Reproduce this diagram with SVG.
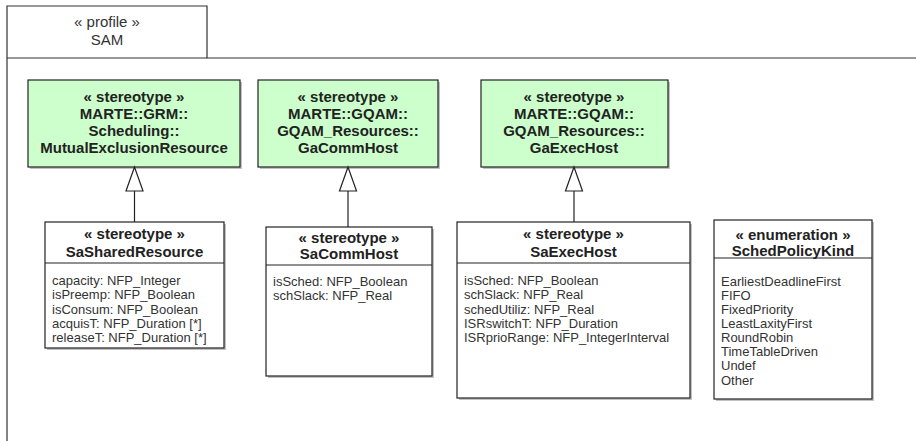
<svg xmlns="http://www.w3.org/2000/svg" width="916" height="441" viewBox="0 0 916 441">
<style>
.frame{fill:none;stroke:#333;stroke-width:1.2}
.box{fill:#fff;stroke:#222;stroke-width:1.2}
.green{fill:#ccffcc;stroke:#222;stroke-width:1.2}
.shadow{fill:#999;opacity:0.6}
.sep{stroke:#222;stroke-width:1.2}
.hd{font-family:"Liberation Sans",Arial,sans-serif;font-size:15px;font-weight:bold;fill:#222;text-anchor:middle}
.at{font-family:"Liberation Sans",Arial,sans-serif;font-size:13px;fill:#333}
.pf{font-family:"Liberation Sans",Arial,sans-serif;font-size:15px;fill:#333;text-anchor:middle}
.edge{stroke:#222;stroke-width:1.2;fill:none}
.tri{fill:#fff;stroke:#222;stroke-width:1.2}
</style>
<rect width="916" height="441" fill="#fff"/>
<g id="profile">
<path class="frame" d="M7,441 V6 H207 V58 H916"/>
<line class="frame" x1="7" y1="58" x2="207" y2="58"/>
<text class="pf" x="107" y="27">« profile »</text>
<text class="pf" x="107" y="45">SAM</text>
</g>
<g id="MutualExclusionResource">
<rect class="shadow" x="30" y="82" width="212" height="87"/>
<rect class="green" x="28" y="80" width="212" height="87"/>
<text class="hd" x="134" y="102">« stereotype »</text>
<text class="hd" x="134" y="119">MARTE::GRM::</text>
<text class="hd" x="134" y="136">Scheduling::</text>
<text class="hd" x="134" y="153">MutualExclusionResource</text>
</g>
<g id="GaCommHost">
<rect class="shadow" x="260" y="82" width="180" height="87"/>
<rect class="green" x="258" y="80" width="180" height="87"/>
<text class="hd" x="348" y="102">« stereotype »</text>
<text class="hd" x="348" y="119">MARTE::GQAM::</text>
<text class="hd" x="348" y="136">GQAM_Resources::</text>
<text class="hd" x="348" y="153">GaCommHost</text>
</g>
<g id="GaExecHost">
<rect class="shadow" x="483" y="82" width="187" height="87"/>
<rect class="green" x="481" y="80" width="187" height="87"/>
<text class="hd" x="574" y="102">« stereotype »</text>
<text class="hd" x="574" y="119">MARTE::GQAM::</text>
<text class="hd" x="574" y="136">GQAM_Resources::</text>
<text class="hd" x="574" y="153">GaExecHost</text>
</g>
<g id="SaSharedResource">
<rect class="shadow" x="47" y="224" width="179" height="126"/>
<rect class="box" x="45" y="222" width="179" height="126"/>
<line class="sep" x1="45" y1="263" x2="224" y2="263"/>
<text class="hd" x="134.5" y="239">« stereotype »</text>
<text class="hd" x="134.5" y="257">SaSharedResource</text>
<text class="at" x="52" y="285">capacity: NFP_Integer</text>
<text class="at" x="52" y="299.3">isPreemp: NFP_Boolean</text>
<text class="at" x="52" y="313.6">isConsum: NFP_Boolean</text>
<text class="at" x="52" y="327.9">acquisT: NFP_Duration [*]</text>
<text class="at" x="52" y="342.2">releaseT: NFP_Duration [*]</text>
</g>
<g id="SaCommHost">
<rect class="shadow" x="268" y="229" width="166" height="149"/>
<rect class="box" x="266" y="227" width="166" height="149"/>
<line class="sep" x1="266" y1="265" x2="432" y2="265"/>
<text class="hd" x="349" y="243">« stereotype »</text>
<text class="hd" x="349" y="259">SaCommHost</text>
<text class="at" x="273" y="285.5">isSched: NFP_Boolean</text>
<text class="at" x="273" y="299.8">schSlack: NFP_Real</text>
</g>
<g id="SaExecHost">
<rect class="shadow" x="459" y="224" width="233" height="176"/>
<rect class="box" x="457" y="222" width="233" height="176"/>
<line class="sep" x1="457" y1="263" x2="690" y2="263"/>
<text class="hd" x="573.5" y="239">« stereotype »</text>
<text class="hd" x="573.5" y="257">SaExecHost</text>
<text class="at" x="464" y="285">isSched: NFP_Boolean</text>
<text class="at" x="464" y="299.3">schSlack: NFP_Real</text>
<text class="at" x="464" y="313.6">schedUtiliz: NFP_Real</text>
<text class="at" x="464" y="327.9">ISRswitchT: NFP_Duration</text>
<text class="at" x="464" y="342.2">ISRprioRange: NFP_IntegerInterval</text>
</g>
<g id="SchedPolicyKind">
<rect class="shadow" x="716" y="222" width="158" height="179"/>
<rect class="box" x="714" y="220" width="158" height="179"/>
<line class="sep" x1="714" y1="258" x2="872" y2="258"/>
<text class="hd" x="793" y="240">« enumeration »</text>
<text class="hd" x="793" y="255.5">SchedPolicyKind</text>
<text class="at" x="721" y="285.5">EarliestDeadlineFirst</text>
<text class="at" x="721" y="299.6">FIFO</text>
<text class="at" x="721" y="313.8">FixedPriority</text>
<text class="at" x="721" y="327.9">LeastLaxityFirst</text>
<text class="at" x="721" y="342.1">RoundRobin</text>
<text class="at" x="721" y="356.2">TimeTableDriven</text>
<text class="at" x="721" y="370.4">Undef</text>
<text class="at" x="721" y="384.5">Other</text>
</g>
<g id="connectors">
<line class="edge" x1="134.5" y1="222" x2="134.5" y2="191"/>
<polygon class="tri" points="134.5,167 126,191 143,191"/>
<line class="edge" x1="348" y1="227" x2="348" y2="191"/>
<polygon class="tri" points="348,167 339.5,191 356.5,191"/>
<line class="edge" x1="574" y1="222" x2="574" y2="191"/>
<polygon class="tri" points="574,167 565.5,191 582.5,191"/>
</g>
</svg>
